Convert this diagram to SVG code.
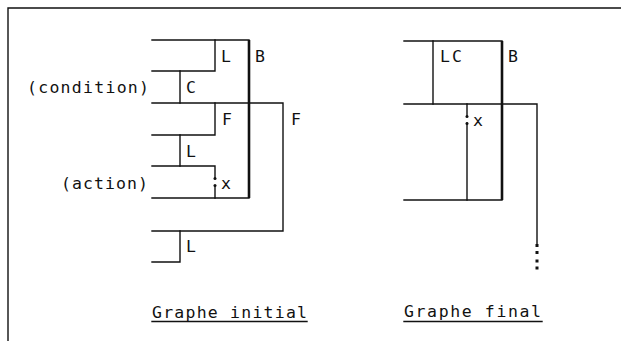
<svg xmlns="http://www.w3.org/2000/svg" width="621" height="341" viewBox="0 0 621 341">
<style>
.ln{stroke:#111;stroke-width:1.4;fill:none;stroke-linecap:square}
.bk{stroke:#111;stroke-width:2.6;fill:none}
.t{font-family:"DejaVu Sans Mono","Liberation Mono",monospace;font-size:16.5px;fill:#111}
.dot{fill:#111}
</style>
<rect width="621" height="341" fill="#fff"/>
<g id="frame">
<path class="ln" d="M8,341 V8 H621"/>
</g>
<g id="graphe-initial">
<g id="connectors-initial">
<path class="ln" d="M152,40 H249"/>
<path class="ln" d="M215,40 V71 H152"/>
<path class="ln" d="M180,71 V103"/>
<path class="ln" d="M152,103 H283 V231 H152"/>
<path class="ln" d="M215,103 V135 H152"/>
<path class="ln" d="M180,135 V166"/>
<path class="ln" d="M152,166 H215 V178"/>
<path class="ln" d="M215,186 V198"/>
<path class="ln" d="M152,198 H249"/>
<path class="ln" d="M180,231 V262 H152"/>
<path class="bk" d="M249,40 V198"/>
<circle class="dot" cx="215" cy="178.5" r="1.5"/>
<circle class="dot" cx="215" cy="185.5" r="1.5"/>
</g>
<g id="labels-initial">
<text class="t" x="221" y="62">L</text>
<text class="t" x="255" y="62">B</text>
<text class="t" x="27" y="93" textLength="122" lengthAdjust="spacing">(condition)</text>
<text class="t" x="186" y="93">C</text>
<text class="t" x="222" y="125">F</text>
<text class="t" x="291" y="125">F</text>
<text class="t" x="186" y="157">L</text>
<text class="t" x="61" y="189" textLength="87" lengthAdjust="spacing">(action)</text>
<text class="t" x="221" y="189">x</text>
<text class="t" x="186" y="252">L</text>
<text class="t" x="152" y="318" textLength="155" lengthAdjust="spacing">Graphe initial</text>
<path class="ln" d="M152,321.5 H307"/>
</g>
</g>
<g id="graphe-final">
<g id="connectors-final">
<path class="ln" d="M404,41 H502"/>
<path class="ln" d="M433,41 V104"/>
<path class="ln" d="M404,104 H537 V245"/>
<path class="ln" d="M467,104 V116"/>
<path class="ln" d="M467,123 V200"/>
<path class="ln" d="M404,200 H502"/>
<path class="bk" d="M502,41 V200"/>
<circle class="dot" cx="467" cy="116.5" r="1.5"/>
<circle class="dot" cx="467" cy="123.5" r="1.5"/>
<rect class="dot" x="535.5" y="244" width="3" height="3"/>
<rect class="dot" x="535.5" y="251" width="3" height="3"/>
<rect class="dot" x="535.5" y="259.5" width="3" height="3"/>
<rect class="dot" x="535.5" y="266.5" width="3" height="3"/>
</g>
<g id="labels-final">
<text class="t" x="440" y="62" textLength="22" lengthAdjust="spacing">LC</text>
<text class="t" x="508" y="62">B</text>
<text class="t" x="473" y="126">x</text>
<text class="t" x="404" y="317" textLength="137" lengthAdjust="spacing">Graphe final</text>
<path class="ln" d="M404,321.5 H542"/>
</g>
</g>
</svg>
